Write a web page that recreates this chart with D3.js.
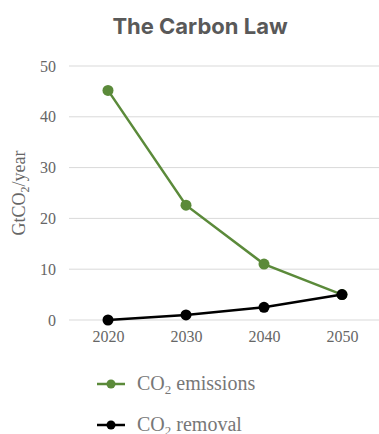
<!DOCTYPE html>
<html>
<head>
<meta charset="utf-8">
<script src="https://cdn.jsdelivr.net/npm/d3@7"></script>
<style>
  html, body { margin: 0; padding: 0; background: #fff; }
  svg { display: block; }
</style>
</head>
<body>
<svg id="chart" width="379" height="434"></svg>
<script>
// Carbon Law pathway: emissions halve each decade while removals ramp up
const years = ["2020", "2030", "2040", "2050"];
const emissions = [45.2, 22.6, 11.0, 5.0];
const removal = [0, 1.0, 2.5, 5.0];
const yTicks = [0, 10, 20, 30, 40, 50];
const seriesNames = ["emissions", "removal"];
const seriesColors = ["#5b8a3a", "#000000"];

const svg = d3.select("#chart");
const serif = "'Liberation Serif', 'DejaVu Serif', serif";

const x = d3.scalePoint().domain(years).range([69, 381]).padding(0.5);
const y = d3.scaleLinear().domain([0, 50]).range([320, 66]);

// Title
svg.append("text")
  .attr("x", 200).attr("y", 34)
  .attr("text-anchor", "middle")
  .attr("font-family", "Inter, 'Liberation Sans', sans-serif")
  .attr("font-weight", 700)
  .attr("font-size", 22)
  .attr("fill", "#595959")
  .text("The Carbon Law");

// Horizontal gridlines
svg.append("g").selectAll("line").data(yTicks).join("line")
  .attr("x1", 69).attr("x2", 381)
  .attr("y1", d => y(d)).attr("y2", d => y(d))
  .attr("stroke", "#d9d9d9").attr("stroke-width", 1);

// Y axis labels
const yAxis = svg.append("g").attr("transform", "translate(69,0)")
  .call(d3.axisLeft(y).tickValues(yTicks).tickSize(0).tickPadding(13));
yAxis.select(".domain").remove();
yAxis.selectAll("text")
  .attr("font-family", serif).attr("font-size", 16).attr("fill", "#666");

// X axis labels
const xAxis = svg.append("g").attr("transform", "translate(0,320)")
  .call(d3.axisBottom(x).tickSize(0).tickPadding(11));
xAxis.select(".domain").remove();
xAxis.selectAll("text")
  .attr("font-family", serif).attr("font-size", 16).attr("fill", "#666");

// Y axis title
const yt = svg.append("text")
  .attr("transform", "translate(25,193) rotate(-90)")
  .attr("text-anchor", "middle")
  .attr("font-family", serif).attr("font-size", 18).attr("fill", "#666");
yt.append("tspan").text("GtCO");
yt.append("tspan").attr("font-size", 12).attr("dy", 4).text("2");
yt.append("tspan").attr("dy", -4).text("/year");

// Lines and markers
const line = d3.line().x((d, i) => x(years[i])).y(d => y(d));
[emissions, removal].forEach((vals, k) => {
  svg.append("path").datum(vals)
    .attr("d", line)
    .attr("fill", "none")
    .attr("stroke", seriesColors[k])
    .attr("stroke-width", 2.5);
  svg.append("g").selectAll("circle").data(vals).join("circle")
    .attr("cx", (d, i) => x(years[i]))
    .attr("cy", d => y(d))
    .attr("r", 5.5)
    .attr("fill", seriesColors[k]);
});

// Legend
const legend = svg.append("g");
seriesNames.forEach((name, k) => {
  const ly = 384 + k * 41;
  legend.append("line")
    .attr("x1", 97).attr("x2", 125).attr("y1", ly).attr("y2", ly)
    .attr("stroke", seriesColors[k]).attr("stroke-width", 2.5);
  legend.append("circle")
    .attr("cx", 111).attr("cy", ly).attr("r", 4.5)
    .attr("fill", seriesColors[k]);
  const t = legend.append("text")
    .attr("x", 137).attr("y", ly + 6)
    .attr("font-family", serif).attr("font-size", 20).attr("fill", "#777");
  t.append("tspan").text("CO");
  t.append("tspan").attr("font-size", 13).attr("dy", 4).text("2");
  t.append("tspan").attr("dy", -4).text(" " + name);
});
</script>
</body>
</html>
